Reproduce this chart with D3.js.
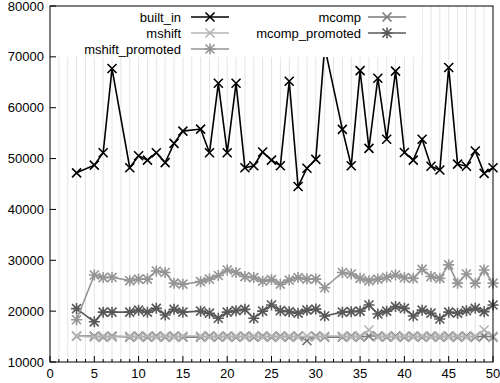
<!DOCTYPE html>
<html lang="en">
<head>
  <script src="https://d3js.org/d3.v7.min.js"></script>
  <style>
    body { margin: 0; background: #fff; }
    text { font-family: "Liberation Sans", Arial, sans-serif; font-size: 13px; fill: #000; }
  </style>
</head>
<body>
<script>
  // run sizes (x) - 4, 8, 16, 32 are not in the data
  const sizes = [3,5,6,7,9,10,11,12,13,14,15,17,18,19,20,21,22,23,24,25,26,27,28,29,30,31,33,34,35,36,37,38,39,40,41,42,43,44,45,46,47,48,49,50];

  const builtIn = [47200,48700,51150,67700,48200,50550,49700,51150,49200,53000,55400,55800,51150,64800,51150,64800,48200,48600,51300,49700,48600,65200,44500,48100,49850,72000,55750,48600,67300,52000,65800,53800,67200,51200,49700,53800,48500,47750,67900,48900,48500,51500,47100,48200];
  const mshift = [15100,14900,15100,14900,15100,14900,15100,14900,15100,14900,15100,15100,14900,15100,14900,15100,14900,15100,14900,15100,14900,15100,14900,15100,14900,15100,15100,14900,15100,16300,14900,15100,14900,15100,14900,15100,14900,15100,14900,15100,14900,15100,16300,15100];
  const mshiftPromoted = [18300,27100,26600,26650,26000,26300,26300,27900,27600,25500,25300,25800,26300,27000,28100,27600,26800,26600,25900,26200,25300,26100,26600,26300,26300,24600,27600,27300,26450,26000,26300,26650,27100,26600,26450,28200,26800,26450,29100,25500,27300,25500,28100,25500];
  const mcomp = [15100,15100,14900,15100,14900,15100,14900,15100,14900,15100,14900,14900,15100,14900,15100,14900,15100,14900,15100,14900,15100,14900,15100,14200,15100,14900,14900,15100,14900,15100,15100,14900,15100,14900,15100,14900,15100,14900,15100,14900,15100,14900,15100,14900];
  const mcompPromoted = [20500,17900,19800,19800,19800,20200,19800,20550,19250,20350,19800,20000,19600,18600,19800,20100,20350,18600,20000,21200,20100,19900,19600,20200,20400,19050,19800,19900,20000,21200,19450,20000,20900,20550,19050,20200,19600,18450,19800,19600,20100,20550,19900,21200];

  const xTicks = [0,5,10,15,20,25,30,35,40,45,50];
  const yTicks = [10000,20000,30000,40000,50000,60000,70000,80000];

  const series = [
    {name: "built_in", values: builtIn, color: "#000000", mark: "x"},
    {name: "mshift", values: mshift, color: "#b4b4b4", mark: "x"},
    {name: "mshift_promoted", values: mshiftPromoted, color: "#959595", mark: "star"},
    {name: "mcomp", values: mcomp, color: "#7a7a7a", mark: "x"},
    {name: "mcomp_promoted", values: mcompPromoted, color: "#585858", mark: "star"}
  ];

  const w = 500, h = 383;
  const pLeft = 50, pRight = 493, pTop = 6, pBottom = 362;

  const x = d3.scaleLinear().domain([0, 50]).range([pLeft, pRight]);
  const y = d3.scaleLinear().domain([10000, 80000]).range([pBottom, pTop]);

  const svg = d3.select("body").append("svg")
    .attr("width", w).attr("height", h);

  //grid, one line per unit
  svg.append("g").selectAll("line")
    .data(d3.range(1, 50))
    .enter().append("line")
    .attr("x1", d => x(d)).attr("x2", d => x(d))
    .attr("y1", pTop).attr("y2", pBottom)
    .attr("stroke", "#e4e4e4").attr("stroke-width", 1);

  const line = d3.line()
    .x((d, i) => x(sizes[i]))
    .y(d => y(d));

  function marker(g, mark, color) {
    const r = 4.5;
    let p = `M${-r},${-r}L${r},${r}M${-r},${r}L${r},${-r}`;
    if (mark == "star") p += `M0,${-r - 1}L0,${r + 1}M${-r - 1},0L${r + 1},0`;
    g.append("path").attr("d", p)
      .attr("stroke", color).attr("stroke-width", 1.6).attr("fill", "none");
  }

  //draw in reverse so built_in ends on top
  series.slice().reverse().forEach(s => {
    svg.append("path")
      .datum(s.values)
      .attr("d", line)
      .attr("fill", "none")
      .attr("stroke", s.color)
      .attr("stroke-width", 1.6);
    svg.append("g").selectAll("g")
      .data(s.values)
      .enter().append("g")
      .attr("transform", (d, i) => `translate(${x(sizes[i])},${y(d)})`)
      .each(function() { marker(d3.select(this), s.mark, s.color); });
  });

  //legend box covers the top of the plot
  svg.append("rect")
    .attr("x", pLeft + 1).attr("y", pTop + 1)
    .attr("width", 421 - pLeft).attr("height", 57 - pTop - 1)
    .attr("fill", "#fff");

  const legendPos = [
    {tx: 181, lx: 191, y: 17},
    {tx: 181, lx: 191, y: 33},
    {tx: 181, lx: 191, y: 49},
    {tx: 361, lx: 368, y: 17},
    {tx: 361, lx: 368, y: 33}
  ];
  series.forEach((s, i) => {
    const p = legendPos[i];
    const g = svg.append("g");
    g.append("text").attr("x", p.tx).attr("y", p.y + 4.5)
      .attr("text-anchor", "end").text(s.name);
    g.append("line").attr("x1", p.lx).attr("x2", p.lx + 38)
      .attr("y1", p.y).attr("y2", p.y)
      .attr("stroke", s.color).attr("stroke-width", 1.6);
    const m = g.append("g").attr("transform", `translate(${p.lx + 19},${p.y})`);
    marker(m, s.mark, s.color);
  });

  //frame
  svg.append("rect")
    .attr("x", pLeft).attr("y", pTop)
    .attr("width", pRight - pLeft).attr("height", pBottom - pTop)
    .attr("fill", "none").attr("stroke", "#000").attr("stroke-width", 1);

  //ticks
  svg.append("g").selectAll("line")
    .data(d3.range(0, 51))
    .enter().append("line")
    .attr("x1", d => x(d)).attr("x2", d => x(d))
    .attr("y1", pBottom).attr("y2", d => d % 5 == 0 ? pBottom - 6 : pBottom - 3)
    .attr("stroke", "#000");
  svg.append("g").selectAll("line")
    .data(yTicks)
    .enter().append("line")
    .attr("x1", pLeft).attr("x2", pLeft + 6)
    .attr("y1", d => y(d)).attr("y2", d => y(d))
    .attr("stroke", "#000");

  svg.append("g").selectAll("text")
    .data(xTicks)
    .enter().append("text")
    .attr("x", d => x(d)).attr("y", 378)
    .attr("text-anchor", "middle")
    .text(d => d);
  svg.append("g").selectAll("text")
    .data(yTicks)
    .enter().append("text")
    .attr("x", 44).attr("y", d => y(d) + 4.5)
    .attr("text-anchor", "end")
    .text(d => d);
</script>
</body>
</html>
